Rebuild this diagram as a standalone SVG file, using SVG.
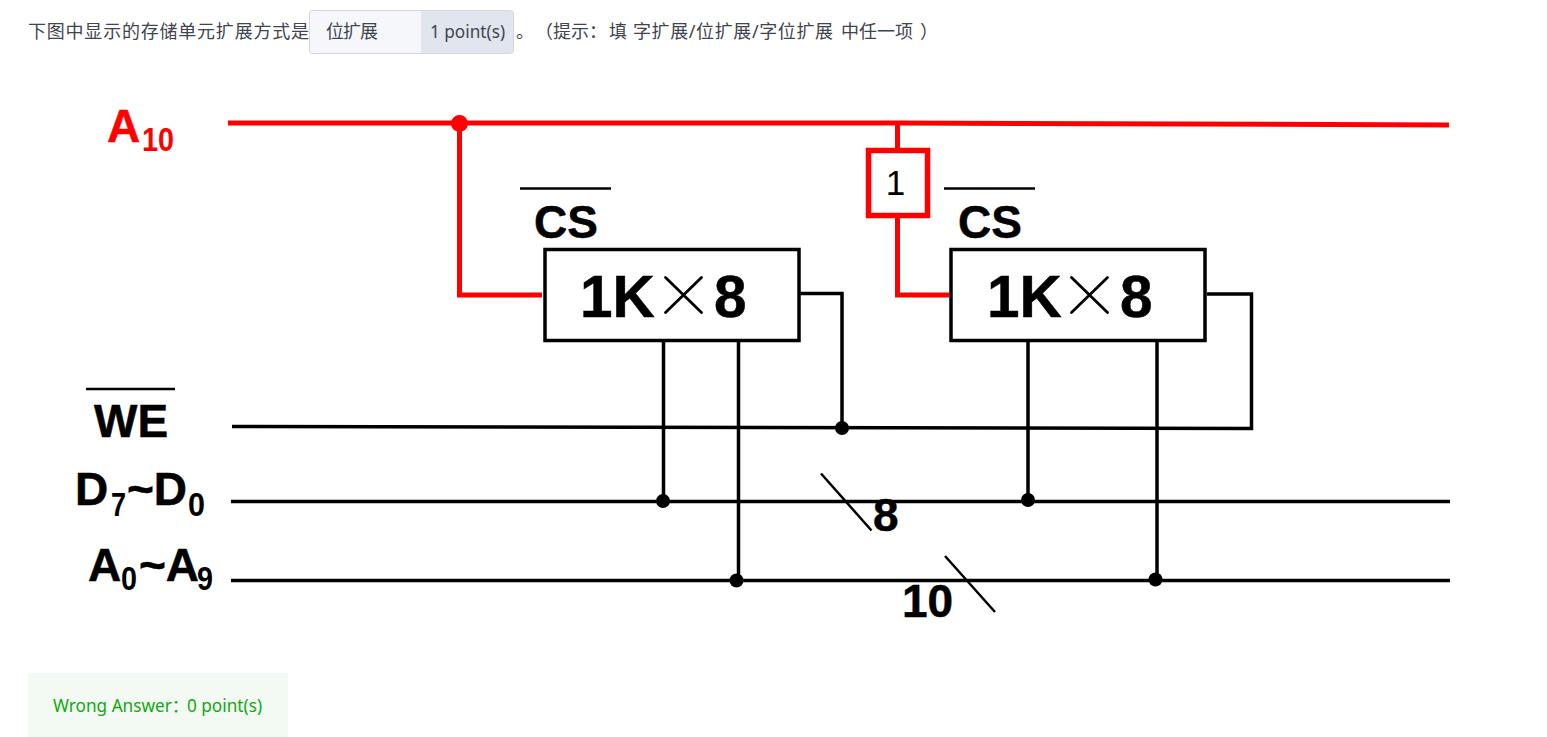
<svg xmlns="http://www.w3.org/2000/svg" width="1547" height="737" viewBox="0 0 1547 737">
<style>
.ui{font-family:"Noto Sans","Noto Sans CJK SC",sans-serif;font-size:18px;fill:#40444f}
.lat{font-size:17.2px}
.b{font-family:"Liberation Sans",Arial,sans-serif;font-weight:700;fill:#000;stroke:#000;stroke-width:.5;font-size:46px}
.chip{font-size:58.500px}
.sub{font-size:34px;stroke-width:0;font-weight:700}
.red{fill:#f00;stroke:#f00}
.k{fill:none;stroke:#000;stroke-width:3.5}
.r{fill:none;stroke:#f00;stroke-width:5}
.t{fill:none;stroke:#000;stroke-width:2.5}
.x{fill:none;stroke:#000;stroke-width:2.8;stroke-linecap:round}
.box{fill:#fff;stroke:#000;stroke-width:3.5}
.good{font-family:"Noto Sans","Noto Sans CJK SC",sans-serif;font-size:17.2px;fill:#12a812}
</style>
<rect width="1547" height="737" fill="#fff"/>
<g id="question">
<text class="ui" x="28" y="38" textLength="281">下图中显示的存储单元扩展方式是</text>
<rect x="309.500" y="10.500" width="204" height="43" rx="3" fill="#f5f7fa" stroke="#d3d6df"/>
<path d="M421 11H510.500a2.500 2.500 0 0 1 2.500 2.500V50.500a2.500 2.500 0 0 1-2.500 2.500H421Z" fill="#e0e5ee"/>
<text class="ui" x="326" y="38" textLength="52">位扩展</text>
<text class="ui lat" x="430" y="38">1 point(s)</text>
<text class="ui" x="516" y="38">。</text>
<text class="ui" x="535" y="38">（提示：</text>
<text class="ui" x="609" y="38">填</text>
<text class="ui" x="633" y="38" textLength="200">字扩展/位扩展/字位扩展</text>
<text class="ui" x="841" y="38">中任一项</text>
<text class="ui" x="920" y="38">）</text>
</g>
<g id="connectors">
<path class="r" d="M228 123H897L1449 125"/>
<path class="r" d="M459.500 123V295H542"/>
<path class="r" d="M897.500 124V151M897.500 215V295H949"/>
<path class="k" d="M232 426.500L1251.500 428.500V294H1207"/>
<path class="k" d="M799 293.500H842V428"/>
<path class="k" d="M231 501.500H1450M231 580.500H1450"/>
<path class="k" d="M663.500 341V501M738.500 341V580M1028 341V500M1157 341V579"/>
<path class="t" d="M821 473.500L871.500 530.500M945 556L995 612"/>
<g fill="#000"><circle cx="842" cy="428" r="7"/><circle cx="663" cy="501" r="7"/><circle cx="736.500" cy="580.500" r="7"/><circle cx="1028" cy="500" r="7"/><circle cx="1155.500" cy="579.500" r="7"/></g>
<circle cx="459.500" cy="123.500" r="8.500" fill="#f00"/>
</g>
<g id="label-a10"><text class="b red" x="107" y="141.500">A</text><text class="b sub red" x="142" y="151" textLength="32" lengthAdjust="spacingAndGlyphs" style="stroke-width:0">10</text></g>
<g id="not-gate"><rect x="868.500" y="150.500" width="59" height="65" fill="#fff" stroke="#f00" stroke-width="5.500"/><text x="895.500" y="195" text-anchor="middle" font-family="Liberation Sans,sans-serif" font-size="35" fill="#000">1</text></g>
<g id="chip-1"><rect class="box" x="545" y="249.500" width="254" height="91"/><text class="b chip" x="580" y="316.500">1K</text><path class="x" d="M665.500 277.500L701.500 312.500M701.500 277.500L665.500 312.500"/><text class="b chip" x="714" y="316.500">8</text></g>
<g id="chip-2"><rect class="box" x="951" y="249.500" width="254" height="91"/><text class="b chip" x="987" y="316.500">1K</text><path class="x" d="M1071.500 277.500L1107.500 312.500M1107.500 277.500L1071.500 312.500"/><text class="b chip" x="1120" y="316.500">8</text></g>
<g id="cs-1"><path class="t" d="M520 188.500H611"/><text class="b" x="534" y="238">CS</text></g>
<g id="cs-2"><path class="t" d="M944 188.500H1035"/><text class="b" x="958" y="238">CS</text></g>
<g id="label-we"><path class="t" d="M86 389H175"/><text class="b" x="94" y="437">WE</text></g>
<g id="label-d"><text class="b" x="75" y="505">D</text><text class="b sub" x="111" y="515.500" textLength="15" lengthAdjust="spacingAndGlyphs">7</text><text class="b" x="127" y="505">~D</text><text class="b sub" x="188" y="515.500" textLength="17" lengthAdjust="spacingAndGlyphs">0</text></g>
<g id="label-a"><text class="b" x="88" y="581">A</text><text class="b sub" x="121" y="590" textLength="16" lengthAdjust="spacingAndGlyphs">0</text><text class="b" x="139" y="581">~A</text><text class="b sub" x="197" y="590" textLength="16" lengthAdjust="spacingAndGlyphs">9</text></g>
<g id="bus-8"><text class="b" x="873" y="530.500">8</text></g>
<g id="bus-10"><text class="b" x="902" y="617">10</text></g>
<g id="result"><rect x="28" y="673" width="260" height="64" fill="#f3faf3"/><text class="good" x="53" y="712">Wrong Answer：</text><text class="good" x="187" y="712">0 point(s)</text></g>
</svg>
